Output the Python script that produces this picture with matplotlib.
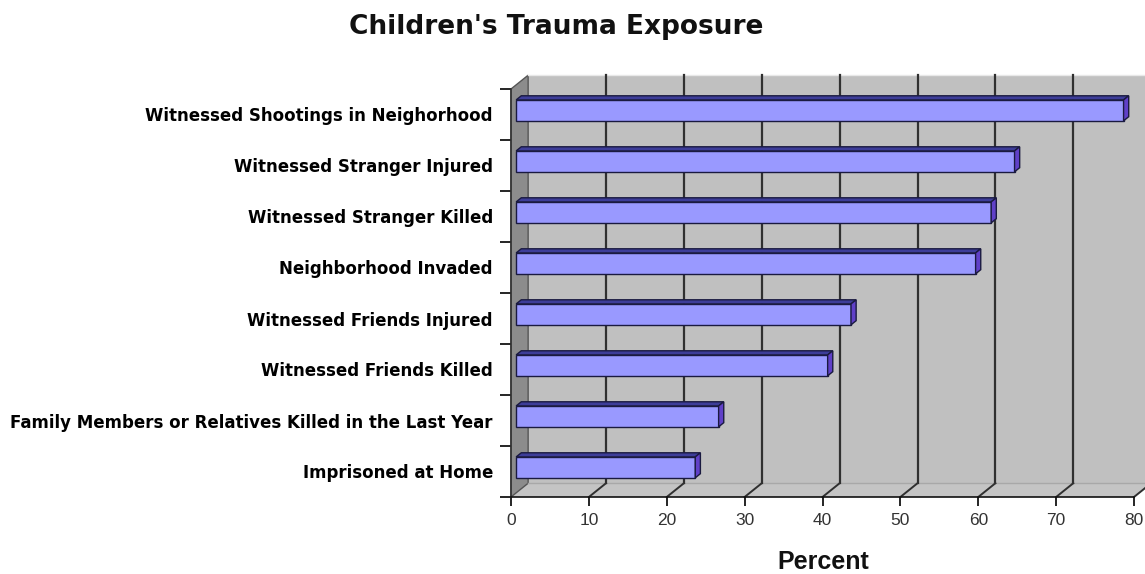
import matplotlib
matplotlib.use("Agg")
import matplotlib.pyplot as plt
from matplotlib.patches import Polygon
from matplotlib.lines import Line2D

# data (bottom to top, as drawn)
categories = [
    "Imprisoned at Home",
    "Family Members or Relatives Killed in the Last Year",
    "Witnessed Friends Killed",
    "Witnessed Friends Injured",
    "Neighborhood Invaded",
    "Witnessed Stranger Killed",
    "Witnessed Stranger Injured",
    "Witnessed Shootings in Neighorhood",
]
percent = [23, 26, 40, 43, 59, 61, 64, 78]
x_ticks = [0, 10, 20, 30, 40, 50, 60, 70, 80]

# 3d look: depth vector of the plot box, in data units
dx, dy = 2.2, 0.27
f0, f1 = 0.3, 0.6          # front / back of the bars inside the box
bar_h = 0.41

fig = plt.figure(figsize=(11.45, 5.74), dpi=100)
W, H = 1145, 574
ax = fig.add_axes([511 / W, (H - 497) / H, (1134 - 511) / W, (497 - 89) / H])
ax.set_xlim(0, 80)
ax.set_ylim(0, 8)
ax.patch.set_visible(False)
n = len(categories)
xmax = x_ticks[-1]

# walls and floor
back = Polygon([(dx, dy), (xmax + dx, dy), (xmax + dx, n + dy), (dx, n + dy)],
               closed=True, facecolor="#c0c0c0", edgecolor="none", clip_on=False, zorder=0)
floor = Polygon([(0, 0), (xmax, 0), (xmax + dx, dy), (dx, dy)],
                closed=True, facecolor="#c4c4c4", edgecolor="none", clip_on=False, zorder=0)
left = Polygon([(0, 0), (dx, dy), (dx, n + dy), (0, n)],
               closed=True, facecolor="#8c8c8c", edgecolor="#555555", lw=1, clip_on=False, zorder=1)
for p in (back, floor, left):
    ax.add_patch(p)
ax.add_line(Line2D([dx, xmax + dx], [n + dy, n + dy], color="#e8e8e8", lw=1, clip_on=False, zorder=1))
ax.add_line(Line2D([dx, xmax + dx], [dy, dy], color="#a8a8a8", lw=1, clip_on=False, zorder=1))

# gridlines on the back wall and across the floor
for t in x_ticks[1:]:
    ax.add_line(Line2D([t + dx, t + dx], [dy, n + dy], color="#303030", lw=1.6, clip_on=False, zorder=1))
    ax.add_line(Line2D([t, t + dx], [0, dy], color="#303030", lw=1.4, clip_on=False, zorder=1))

# bars
centers = [i + 0.5 for i in range(n)]
ax.barh([c + f0 * dy for c in centers], percent, left=f0 * dx, height=bar_h,
        color="#9999ff", edgecolor="#1a1a40", lw=1, zorder=3)
for c, v in zip(centers, percent):
    y_lo = c - bar_h / 2 + f0 * dy
    y_hi = c + bar_h / 2 + f0 * dy
    x0, x1 = f0 * dx, v + f0 * dx
    ddx, ddy = (f1 - f0) * dx, (f1 - f0) * dy
    top = Polygon([(x0, y_hi), (x1, y_hi), (x1 + ddx, y_hi + ddy), (x0 + ddx, y_hi + ddy)],
                  closed=True, facecolor="#3d3d99", edgecolor="#1a1a40", lw=1, zorder=3)
    side = Polygon([(x1, y_lo), (x1, y_hi), (x1 + ddx, y_hi + ddy), (x1 + ddx, y_lo + ddy)],
                   closed=True, facecolor="#6040c8", edgecolor="#1a1a40", lw=1, zorder=3)
    ax.add_patch(top)
    ax.add_patch(side)

# axes
for s in ("top", "right"):
    ax.spines[s].set_visible(False)
ax.spines["left"].set_color("#333333")
ax.spines["bottom"].set_color("#111111")
ax.spines["left"].set_linewidth(1.2)
ax.spines["bottom"].set_linewidth(1.2)
ax.spines["bottom"].set_zorder(4)

ax.set_xticks(x_ticks)
ax.set_xticklabels([str(t) for t in x_ticks], fontsize=12.5, family="Liberation Sans", color="#333333")
ax.tick_params(axis="x", direction="out", length=6.5, width=1.2, pad=5)

ax.set_yticks(range(n + 1))
ax.set_yticklabels([])
ax.set_yticks(centers, minor=True)
ax.set_yticklabels(categories, minor=True, fontsize=12, fontweight="bold", family="DejaVu Sans")
ax.tick_params(axis="y", which="major", direction="out", length=8, width=1.2)
ax.tick_params(axis="y", which="minor", length=0, pad=13)
for lab in ax.get_yticklabels(minor=True):
    lab.set_y(lab.get_position()[1] - 0.05)

fig.text(556 / W, 1 - 27 / H, "Children's Trauma Exposure", ha="center", va="center",
         fontsize=19, fontweight="bold", family="DejaVu Sans", color="#111111")
fig.text(823 / W, 1 - 562 / H, "Percent", ha="center", va="center",
         fontsize=18, fontweight="bold", family="Liberation Sans", color="#111111")

fig.savefig("out.png", dpi=100)
